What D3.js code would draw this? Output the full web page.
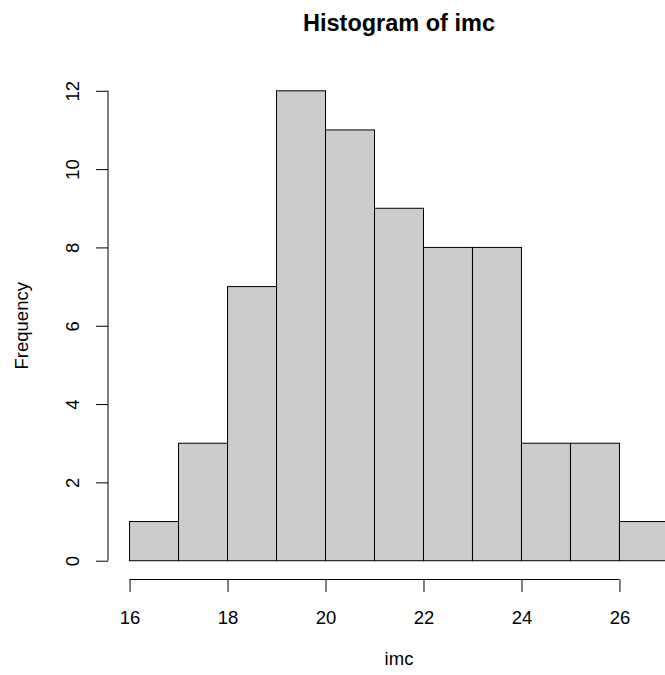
<!DOCTYPE html>
<html>
<head>
<meta charset="utf-8">
<script src="https://cdn.jsdelivr.net/npm/d3@7"></script>
<style>
  body { margin: 0; background: #fff; }
  svg text { font-family: "Liberation Sans", Arial, sans-serif; fill: #000; }
</style>
</head>
<body>
<div id="chart"></div>
<script>
// histogram data
var breaks = [16, 17, 18, 19, 20, 21, 22, 23, 24, 25, 26, 27];
var counts = [1, 3, 7, 12, 11, 9, 8, 8, 3, 3, 1];
var xTicks = [16, 18, 20, 22, 24, 26];
var yTicks = [0, 2, 4, 6, 8, 10, 12];

var width = 665, height = 675;
// plot region (R style, 4% padding on data range)
var plot = {left: 108, right: 690, top: 72, bottom: 579.5};

var svg = d3.select("#chart")
  .append("svg")
    .attr("width", width)
    .attr("height", height);

var xr = [breaks[0], breaks[breaks.length - 1]],
    yr = [0, d3.max(counts)];
var xpad = (xr[1] - xr[0]) * 0.04, ypad = (yr[1] - yr[0]) * 0.04;

var x = d3.scaleLinear()
  .domain([xr[0] - xpad, xr[1] + xpad])
  .range([plot.left, plot.right]);
var y = d3.scaleLinear()
  .domain([yr[0] - ypad, yr[1] + ypad])
  .range([plot.bottom, plot.top]);

var bins = counts.map(function(c, i) { return {x0: breaks[i], x1: breaks[i + 1], n: c}; });

// bars
svg.append("g").selectAll("rect")
  .data(bins)
  .enter().append("rect")
    .attr("x", function(d) { return x(d.x0); })
    .attr("y", function(d) { return y(d.n); })
    .attr("width", function(d) { return x(d.x1) - x(d.x0); })
    .attr("height", function(d) { return y(0) - y(d.n); })
    .attr("fill", "#cccccc")
    .attr("stroke", "#000")
    .attr("stroke-width", 1);

// x axis
var xAxis = svg.append("g")
  .attr("transform", "translate(0," + plot.bottom + ")")
  .call(d3.axisBottom(x).tickValues(xTicks).tickSize(12.5).tickSizeOuter(0).tickPadding(20));
// y axis
var yAxis = svg.append("g")
  .attr("transform", "translate(" + plot.left + ",0)")
  .call(d3.axisLeft(y).tickValues(yTicks).tickSize(12).tickSizeOuter(0));

// axis line only spans the tick range, like R
xAxis.select(".domain").attr("d", "M" + x(xTicks[0]) + ",0H" + x(xTicks[xTicks.length - 1]));
yAxis.select(".domain").attr("d", "M0," + y(yTicks[0]) + "V" + y(yTicks[yTicks.length - 1]));

svg.selectAll(".domain, .tick line").attr("stroke", "#000").attr("stroke-width", 1);

xAxis.selectAll(".tick text")
  .attr("font-size", "18.5px")
  .attr("font-family", null)
  .attr("dy", null)
  .attr("y", 44);

yAxis.selectAll(".tick text")
  .attr("font-size", "18.5px")
  .attr("font-family", null)
  .attr("x", null).attr("dy", null)
  .attr("text-anchor", "middle")
  .attr("transform", "translate(-29.5,0) rotate(-90)");

// title and labels
var cx = (plot.left + plot.right) / 2;
svg.append("text")
  .attr("x", cx).attr("y", 31)
  .attr("text-anchor", "middle")
  .attr("font-size", "23.5px")
  .attr("font-weight", "bold")
  .text("Histogram of imc");

svg.append("text")
  .attr("x", cx).attr("y", 665)
  .attr("text-anchor", "middle")
  .attr("font-size", "18.5px")
  .text("imc");

svg.append("text")
  .attr("transform", "translate(28," + (plot.top + plot.bottom) / 2 + ") rotate(-90)")
  .attr("text-anchor", "middle")
  .attr("font-size", "18.5px")
  .text("Frequency");
</script>
</body>
</html>
